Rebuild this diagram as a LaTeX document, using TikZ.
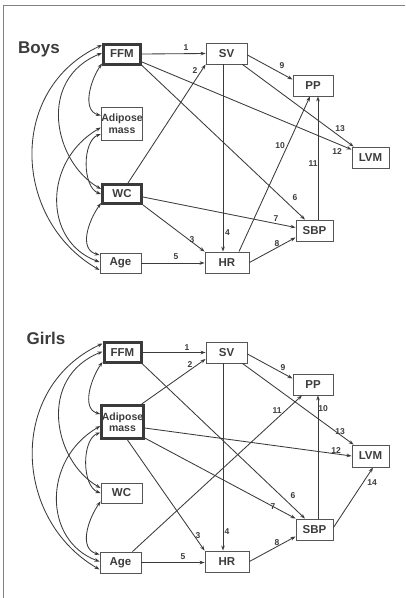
\documentclass[tikz,border=0pt]{standalone}
\usepackage{fontspec}
\setmainfont{Liberation Sans}
\usetikzlibrary{arrows.meta,calc}
\definecolor{linec}{HTML}{3A3A3A}
\definecolor{boxc}{HTML}{555555}
\definecolor{heavyc}{HTML}{3A3A3A}
\definecolor{txtc}{HTML}{3C3C3C}
\definecolor{framec}{HTML}{808080}
\begin{document}
\begin{tikzpicture}[x=1pt,y=1pt,
  box/.style={draw=boxc, line width=0.9pt, minimum width=40pt, minimum height=21pt,
    inner sep=0pt, font=\fontsize{11.5}{11.5}\selectfont\bfseries, text=txtc, align=center},
  adtext/.style={font=\fontsize{10.5}{11.5}\selectfont\bfseries},
  heavy/.style={box, draw=heavyc, line width=3pt, minimum width=37pt, minimum height=20pt},
  lbl/.style={font=\fontsize{8.5}{9}\selectfont\bfseries, text=txtc, inner sep=0pt},
  ttl/.style={font=\fontsize{17}{18}\selectfont\bfseries, text=txtc, inner sep=0pt},
  arr/.style={draw=linec, line width=0.85pt, -{Stealth[length=5pt,width=3.6pt]}},
  dbl/.style={draw=linec, line width=0.85pt, {Stealth[length=5pt,width=3.6pt]}-{Stealth[length=5pt,width=3.6pt]}},
]
\useasboundingbox (0,0) rectangle (405,-598);
\draw[framec, line width=1pt] (405,-5) -- (3,-5) -- (3,-598);

% ---------------- Boys ----------------
\node[ttl] (bT) at (39,-49) {Boys};
\node[heavy] (bFFM) at (122,-54) {FFM};
\node[box, minimum width=41pt] (bSV) at (226.5,-53.5) {SV};
\node[box] (bPP) at (313,-85.5) {PP};
\node[box, adtext, minimum height=33pt] (bAD) at (122,-123.5) {Adipose\\mass};
\node[box, minimum width=37pt] (bLVM) at (370.5,-157.5) {LVM};
\node[heavy, minimum width=39pt, minimum height=19pt] (bWC) at (122,-194) {WC};
\node[box, minimum width=37pt] (bSBP) at (314.5,-230.5) {SBP};
\node[box, minimum width=41pt, minimum height=20pt] (bAge) at (120.5,-263) {Age};
\node[box, minimum width=44pt] (bHR) at (227,-262.5) {HR};

% ---------------- Girls ----------------
\node[ttl] (gT) at (46,-338) {Girls};
\node[heavy] (gFFM) at (122.5,-352.5) {FFM};
\node[box, minimum width=41pt] (gSV) at (226.5,-352.5) {SV};
\node[box] (gPP) at (313,-384.5) {PP};
\node[heavy, adtext, minimum width=38pt, minimum height=33pt] (gAD) at (122.5,-422) {Adipose\\mass};
\node[box, minimum width=37pt, minimum height=22pt] (gLVM) at (370.5,-456) {LVM};
\node[box, minimum width=41pt, minimum height=20pt] (gWC) at (121.5,-493) {WC};
\node[box, minimum width=37pt] (gSBP) at (314.5,-529.5) {SBP};
\node[box, minimum width=41pt] (gAge) at (120.5,-562.5) {Age};
\node[box, minimum width=44pt] (gHR) at (227,-561.5) {HR};

% ---------------- correlation arcs ----------------
\foreach \p in {b,g}{
  \draw[dbl] ([yshift=2pt]\p FFM.south west) .. controls +(235:20pt) and +(165:20pt) .. ([yshift=8pt]\p AD.west);
  \draw[dbl] ([yshift=1pt]\p FFM.west) .. controls +(202:70pt) and +(150:55pt) .. ([yshift=5pt]\p WC.west);
  \draw[dbl] ([yshift=9pt]\p FFM.west) .. controls +(205:105pt) and +(150:100pt) .. ([yshift=-7pt]\p Age.west);
  \draw[dbl] ([yshift=-10.5pt]\p AD.west) .. controls +(200:20pt) and +(160:20pt) .. ([yshift=0pt]\p WC.west);
  \draw[dbl] ([yshift=-4pt]\p AD.west) .. controls +(210:67pt) and +(160:60pt) .. ([yshift=1pt]\p Age.west);
  \draw[dbl] ([yshift=2pt]\p WC.south west) .. controls +(235:22pt) and +(165:22pt) .. ([yshift=8pt]\p Age.west);
}

% ---------------- Boys paths ----------------
\draw[arr] (bFFM.east) -- (bSV.west);
\draw[arr] ([xshift=6pt]bWC.north) -- (bSV.south west);
\draw[arr] (bWC.south east) -- (bHR.north west);
\draw[arr] ([xshift=-3.5pt]bSV.south) -- ([xshift=-3.5pt]bSV.south |- bHR.north);
\draw[arr] (bAge.east) -- (bHR.west |- bAge.east);
\draw[arr] (bFFM.south east) -- ([xshift=-9.5pt]bSBP.north);
\draw[arr] ([yshift=-3pt]bWC.east) -- ([yshift=3pt]bSBP.west);
\draw[arr] (bHR.east) -- ([yshift=-7pt]bSBP.west);
\draw[arr] ([yshift=-1.5pt]bSV.east) -- ([yshift=6pt]bPP.west);
\draw[arr] ([xshift=12pt]bHR.north) -- ([xshift=-3pt]bPP.south);
\draw[arr] ([xshift=3.5pt]bSBP.north) -- ([xshift=3.5pt]bSBP.north |- bPP.south);
\draw[arr] ([yshift=-8pt]bFFM.east) -- ([yshift=-3pt]bLVM.north west);
\draw[arr] ([xshift=-5pt]bSV.south east) -- ([xshift=2pt]bLVM.north west);

\node[lbl] (bl1) at (186,-48) {1};
\node[lbl] (bl2) at (195,-71) {2};
\node[lbl] (bl3) at (192,-240) {3};
\node[lbl] (bl4) at (227.5,-233) {4};
\node[lbl] (bl5) at (176,-257) {5};
\node[lbl] (bl6) at (295,-198) {6};
\node[lbl] (bl7) at (276,-218.5) {7};
\node[lbl] (bl8) at (277,-244) {8};
\node[lbl] (bl9) at (282,-66) {9};
\node[lbl] (bl10) at (280,-146) {10};
\node[lbl] (bl11) at (313,-164) {11};
\node[lbl] (bl12) at (337,-152) {12};
\node[lbl] (bl13) at (340,-129) {13};

% ---------------- Girls paths ----------------
\draw[arr] (gFFM.east) -- (gSV.west);
\draw[arr] ([xshift=-3pt]gAD.north east) -- ([yshift=-6.5pt]gSV.west);
\draw[arr] ([xshift=5pt]gAD.south) -- (gHR.north west);
\draw[arr] ([xshift=-3.5pt]gSV.south) -- ([xshift=-3.5pt]gSV.south |- gHR.north);
\draw[arr] (gAge.east) -- (gHR.west |- gAge.east);
\draw[arr] (gFFM.south east) -- ([xshift=-9.5pt]gSBP.north);
\draw[arr] ([yshift=2pt]gAD.south east) -- (gSBP.north west);
\draw[arr] (gHR.east) -- ([yshift=-7pt]gSBP.west);
\draw[arr] ([yshift=-1.5pt]gSV.east) -- ([yshift=6pt]gPP.west);
\draw[arr] ([xshift=3.5pt]gSBP.north) -- ([xshift=3.5pt]gSBP.north |- gPP.south);
\draw[arr] ([xshift=12pt]gAge.north) -- ([xshift=-11pt]gPP.south);
\draw[arr] ([yshift=-6pt]gAD.east) -- (gLVM.west);
\draw[arr] ([xshift=-5pt]gSV.south east) -- ([xshift=2pt]gLVM.north west);
\draw[arr] ([yshift=2pt]gSBP.east) -- ([xshift=2.5pt]gLVM.south);

\node[lbl] (gl1) at (187,-348) {1};
\node[lbl] (gl2) at (190,-365) {2};
\node[lbl] (gl3) at (198,-536) {3};
\node[lbl] (gl4) at (227,-532) {4};
\node[lbl] (gl5) at (183,-557) {5};
\node[lbl] (gl6) at (293,-496) {6};
\node[lbl] (gl7) at (273,-507) {7};
\node[lbl] (gl8) at (277,-543) {8};
\node[lbl] (gl9) at (283,-368) {9};
\node[lbl] (gl10) at (323,-409) {10};
\node[lbl] (gl11) at (277,-411) {11};
\node[lbl] (gl12) at (336,-451) {12};
\node[lbl] (gl13) at (340,-432) {13};
\node[lbl] (gl14) at (372,-483) {14};
\end{tikzpicture}
\end{document}
